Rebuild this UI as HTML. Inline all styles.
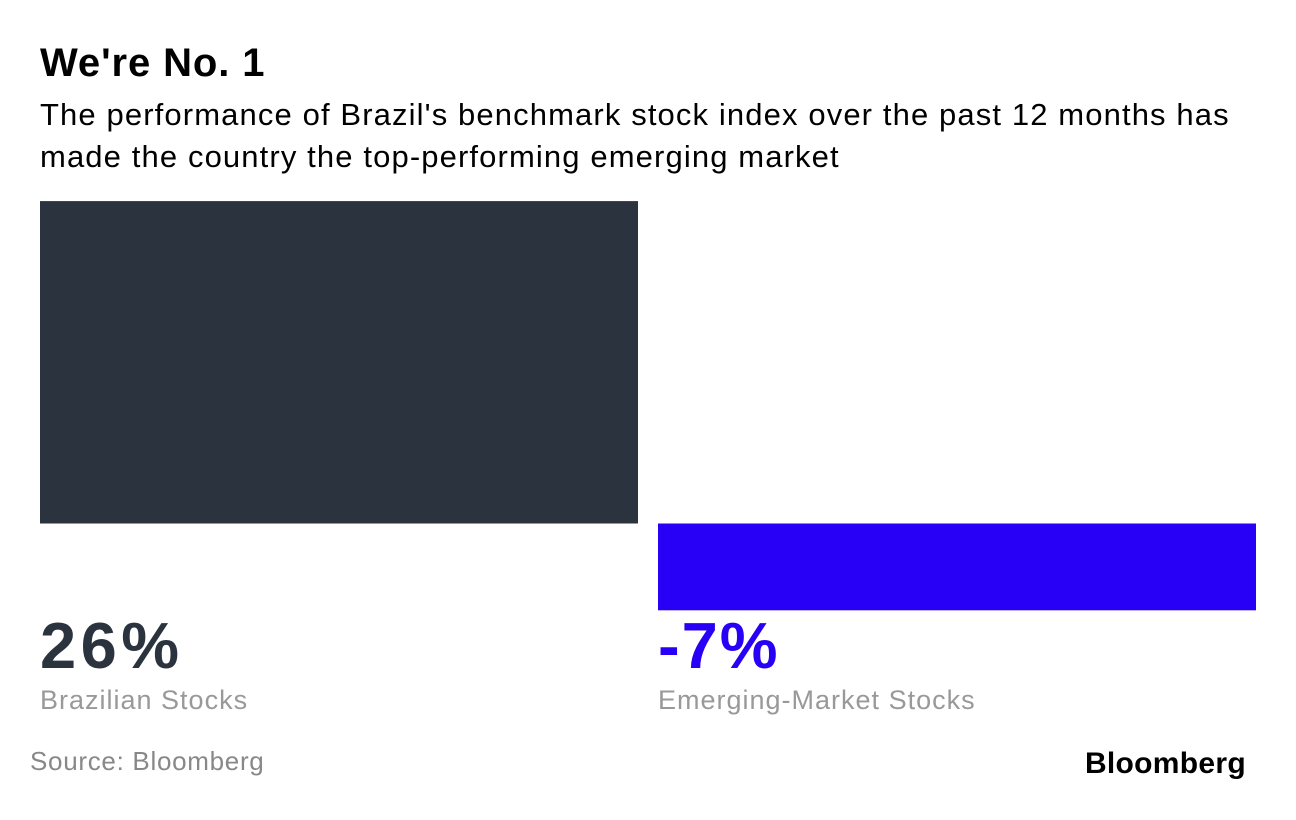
<!DOCTYPE html>
<html><head><meta charset="utf-8"><style>
body{margin:0;width:1296px;height:820px;background:#fff;font-family:"Liberation Sans",sans-serif;position:relative;overflow:hidden}
.t{position:absolute;white-space:nowrap}
</style></head><body>
<div class="t" style="left:40px;top:41px;font-size:40px;font-weight:bold;letter-spacing:0.9px;color:#000">We're No. 1</div>
<div class="t" style="left:40px;top:94px;font-size:31px;letter-spacing:1.12px;line-height:42px;color:#000">The performance of Brazil's benchmark stock index over the past 12 months has<br>made the country the top-performing emerging market</div>
<svg id="chart" width="1296" height="820" style="position:absolute;left:0;top:0"></svg>
<div class="t" style="left:30px;top:746px;font-size:26px;letter-spacing:0.7px;color:#888">Source: Bloomberg</div>
<div class="t" style="right:50px;top:747px;font-size:30px;font-weight:bold;letter-spacing:0.3px;color:#000">Bloomberg</div>
<script>
const categories=["Brazilian Stocks","Emerging-Market Stocks"];
const values=[26,-7];
const labels=["26%","-7%"];
const colors=["#2b333e","#2800f5"];
const svg=document.getElementById('chart');
const NS="http://www.w3.org/2000/svg";
const zeroY=523.5, scale=12.4, x0=40, bw=598, gap=20;
function y(v){return zeroY-v*scale;}
categories.forEach((c,i)=>{
  const x=x0+i*(bw+gap);
  const r=document.createElementNS(NS,'rect');
  
  
  r.setAttribute('x',x);r.setAttribute('y',Math.min(y(values[i]),zeroY));
  r.setAttribute('width',bw);r.setAttribute('height',Math.abs(y(values[i])-zeroY));
  r.setAttribute('fill',colors[i]);svg.appendChild(r);
  const t=document.createElementNS(NS,'text');
  
  
  t.setAttribute('x',x);t.setAttribute('y',668);t.setAttribute('font-size','65');
  t.setAttribute('font-weight','bold');t.setAttribute('letter-spacing',i===0?'4.5':'2');t.setAttribute('fill',colors[i]);
  t.setAttribute('font-family','Liberation Sans, sans-serif');
  t.textContent=labels[i];svg.appendChild(t);
  const l=document.createElementNS(NS,'text');
  
  
  l.setAttribute('x',x);l.setAttribute('y',709);l.setAttribute('font-size','27');
  l.setAttribute('letter-spacing','1');
  l.setAttribute('fill','#999');l.setAttribute('font-family','Liberation Sans, sans-serif');
  l.textContent=c;svg.appendChild(l);
});
</script>
</body></html>
